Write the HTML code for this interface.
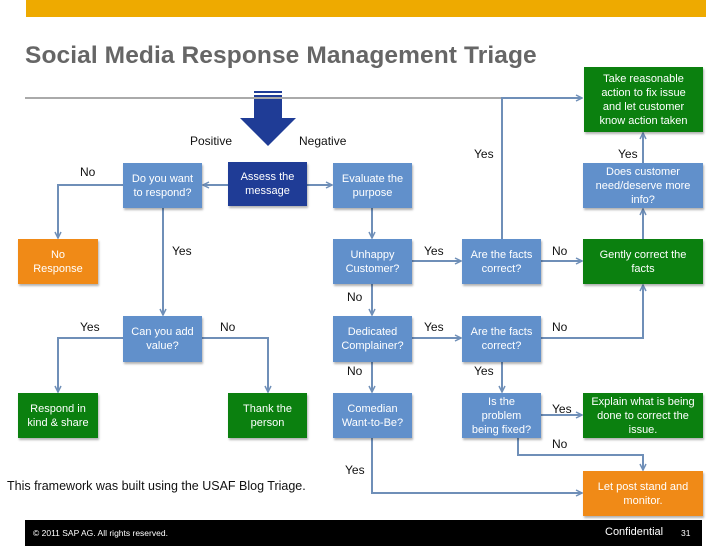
<!DOCTYPE html>
<html><head><meta charset="utf-8"><style>
body{margin:0;width:728px;height:546px;background:#fff;position:relative;overflow:hidden;font-family:"Liberation Sans",sans-serif}
.b{position:absolute;display:flex;align-items:center;justify-content:center;text-align:center;color:#fff;font-size:11px;line-height:14px;box-shadow:1px 2px 2px rgba(0,0,0,.3)}
.bl{background:#6190cb}.db{background:#1f3c96}.g{background:#0b800f}.o{background:#f08a17}
.t{position:absolute;font-size:12px;color:#111}
</style></head><body>
<div style="position:absolute;left:26px;top:0;width:680px;height:17px;background:#eeaa00"></div>
<div style="position:absolute;left:25px;top:42px;font-size:24.5px;font-weight:bold;color:#666;letter-spacing:0.1px">Social Media Response Management Triage</div>
<svg width="728" height="546" style="position:absolute;left:0;top:0">
<defs><marker id="a" markerWidth="8" markerHeight="8" refX="7" refY="4" orient="auto" markerUnits="userSpaceOnUse"><path d="M1,1 L7,4 L1,7" fill="none" stroke="#6f8fb8" stroke-width="1.5"/></marker></defs>
<line x1="25" y1="98" x2="502" y2="98" stroke="#555" stroke-width="1"/>
<g fill="none" stroke="#6f8fb8" stroke-width="2">
<path d="M228,185 H203" marker-end="url(#a)"/>
<path d="M307,185 H332" marker-end="url(#a)"/>
<path d="M123,185 H58 V238" marker-end="url(#a)"/>
<path d="M163,208 V315" marker-end="url(#a)"/>
<path d="M372,208 V238" marker-end="url(#a)"/>
<path d="M412,261 H461" marker-end="url(#a)"/>
<path d="M541,261 H582" marker-end="url(#a)"/>
<path d="M502,239 V98 H582" marker-end="url(#a)"/>
<path d="M643,239 V209" marker-end="url(#a)"/>
<path d="M643,163 V133" marker-end="url(#a)"/>
<path d="M372,284 V315" marker-end="url(#a)"/>
<path d="M412,338 H461" marker-end="url(#a)"/>
<path d="M541,338 H643 V285" marker-end="url(#a)"/>
<path d="M372,362 V392" marker-end="url(#a)"/>
<path d="M502,362 V392" marker-end="url(#a)"/>
<path d="M541,415 H582" marker-end="url(#a)"/>
<path d="M518,438 V455 H643 V470" marker-end="url(#a)"/>
<path d="M372,438 V493 H582" marker-end="url(#a)"/>
<path d="M123,338 H58 V392" marker-end="url(#a)"/>
<path d="M202,338 H268 V392" marker-end="url(#a)"/>
</g>
<g fill="#1f3c96"><rect x="254" y="91" width="28" height="2"/><rect x="254" y="95" width="28" height="2"/><path d="M254,99 H282 V118 H296 L268,146 L240,118 H254 Z"/></g>
</svg>
<div class="b g" style="left:584px;top:67px;width:119px;height:65px">Take reasonable<br>action to fix issue<br>and let customer<br>know action taken</div>
<div class="b bl" style="left:583px;top:163px;width:120px;height:45px">Does customer<br>need/deserve more<br>info?</div>
<div class="b g" style="left:583px;top:239px;width:120px;height:45px">Gently correct the<br>facts</div>
<div class="b db" style="left:228px;top:162px;width:79px;height:44px">Assess the<br>message</div>
<div class="b bl" style="left:123px;top:163px;width:79px;height:45px">Do you want<br>to respond?</div>
<div class="b bl" style="left:333px;top:163px;width:79px;height:45px">Evaluate the<br>purpose</div>
<div class="b o" style="left:18px;top:239px;width:80px;height:45px">No<br>Response</div>
<div class="b bl" style="left:333px;top:239px;width:79px;height:45px">Unhappy<br>Customer?</div>
<div class="b bl" style="left:462px;top:239px;width:79px;height:45px">Are the facts<br>correct?</div>
<div class="b bl" style="left:123px;top:316px;width:79px;height:46px">Can you add<br>value?</div>
<div class="b bl" style="left:333px;top:316px;width:79px;height:46px">Dedicated<br>Complainer?</div>
<div class="b bl" style="left:462px;top:316px;width:79px;height:46px">Are the facts<br>correct?</div>
<div class="b g" style="left:18px;top:393px;width:80px;height:45px">Respond in<br>kind &amp; share</div>
<div class="b g" style="left:228px;top:393px;width:79px;height:45px">Thank the<br>person</div>
<div class="b bl" style="left:333px;top:393px;width:79px;height:45px">Comedian<br>Want-to-Be?</div>
<div class="b bl" style="left:462px;top:393px;width:79px;height:45px">Is the<br>problem<br>being fixed?</div>
<div class="b g" style="left:583px;top:393px;width:120px;height:45px">Explain what is being<br>done to correct the<br>issue.</div>
<div class="b o" style="left:583px;top:471px;width:120px;height:45px">Let post stand and<br>monitor.</div>
<div class="t" style="left:190px;top:134px">Positive</div>
<div class="t" style="left:299px;top:134px">Negative</div>
<div class="t" style="left:80px;top:165px">No</div>
<div class="t" style="left:172px;top:244px">Yes</div>
<div class="t" style="left:424px;top:244px">Yes</div>
<div class="t" style="left:552px;top:244px">No</div>
<div class="t" style="left:474px;top:147px">Yes</div>
<div class="t" style="left:618px;top:147px">Yes</div>
<div class="t" style="left:347px;top:290px">No</div>
<div class="t" style="left:424px;top:320px">Yes</div>
<div class="t" style="left:552px;top:320px">No</div>
<div class="t" style="left:80px;top:320px">Yes</div>
<div class="t" style="left:220px;top:320px">No</div>
<div class="t" style="left:347px;top:364px">No</div>
<div class="t" style="left:474px;top:364px">Yes</div>
<div class="t" style="left:552px;top:402px">Yes</div>
<div class="t" style="left:552px;top:437px">No</div>
<div class="t" style="left:345px;top:463px">Yes</div>
<div class="t" style="left:7px;top:479px;font-size:12.5px">This framework was built using the USAF Blog Triage.</div>
<div style="position:absolute;left:25px;top:520px;width:677px;height:26px;background:#000;color:#fff">
<span style="position:absolute;left:8px;top:8px;font-size:8.5px">© 2011 SAP AG. All rights reserved.</span>
<span style="position:absolute;left:580px;top:6px;font-size:11px">Confidential</span>
<span style="position:absolute;left:656px;top:8px;font-size:8.5px">31</span>
</div>
</body></html>
